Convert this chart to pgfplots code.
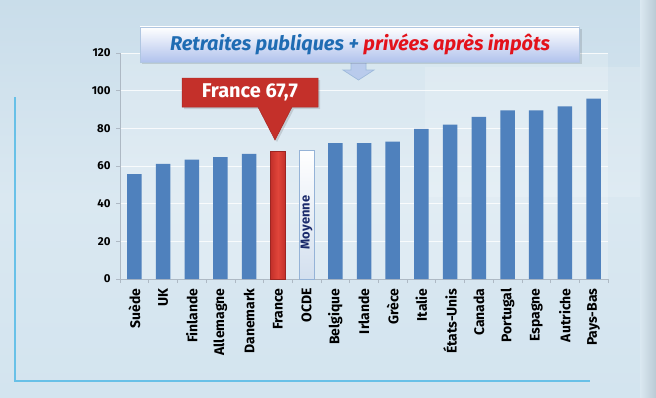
\documentclass[border=0pt]{standalone}
\usepackage{fontspec}
\setmainfont{Fira Sans}
\usepackage{pgfplots}
\pgfplotsset{compat=1.18}
\definecolor{barblue}{HTML}{4F81BD}
\definecolor{fred}{HTML}{C4302A}
\definecolor{fredlight}{HTML}{E0453A}
\definecolor{bgtop}{HTML}{C9DDEA}
\definecolor{bgmid}{HTML}{DAE8F1}
\definecolor{bgbot}{HTML}{D3E4EF}
\definecolor{tblue}{HTML}{1F6CB3}
\definecolor{tred}{HTML}{E3121B}
\definecolor{navy}{HTML}{1B2A6B}
\definecolor{frame}{HTML}{4DB8E6}
\definecolor{axgray}{HTML}{AEB9C4}
\begin{document}
\begin{tikzpicture}[x=1bp,y=1bp]
\useasboundingbox (0,0) rectangle (656,397);
\shade[top color=bgtop, bottom color=bgbot, middle color=bgmid] (0,0) rectangle (656,397);
\fill[white, opacity=0.15] (425,200) rectangle (640,330);
\fill[white, opacity=0.2] (120,118) rectangle (608,344);
\shade[left color=bgmid, right color=gray!20!bgtop] (640,0) rectangle (656,397);
\draw[frame, line width=2.5bp, opacity=0.8] (15,300) -- (15,16) -- (590,16);
\begin{axis}[
  at={(120bp,118bp)}, anchor=south west,
  scale only axis, width=488bp, height=226bp,
  xmin=-0.5, xmax=16.5, ymin=0, ymax=120,
  ytick={0,20,...,120},
  xtick={0,...,16},
  xticklabels={Suède,UK,Finlande,Allemagne,Danemark,France,OCDE,Belgique,Irlande,Grèce,Italie,États-Unis,Canada,Portugal,Espagne,Autriche,Pays-Bas},
  minor xtick={-0.5,0.5,...,16.5},
  major x tick style={draw=none},
  minor tick length=4bp,
  major tick length=4bp,
  tick align=outside,
  tick style={axgray, line width=0.6pt},
  axis x line*=bottom, axis y line*=left,
  axis line style={axgray, line width=0.7pt, -},
  ymajorgrids, grid style={white, opacity=0.8, line width=0.8pt},
  xticklabel style={rotate=90, anchor=east, font=\bfseries\fontsize{14}{16}\selectfont, xshift=-2bp},
  yticklabel style={font=\bfseries\fontsize{11.5}{13}\selectfont, xshift=-2bp},
  /pgf/number format/assume math mode=true,
  ybar, bar width=14.5bp, bar shift=0pt,
  clip=false,
]
\addplot[draw=none, fill=barblue] coordinates {
(0,55.7) (1,61.1) (2,63.4) (3,64.7) (4,66.5)
(7,72.1) (8,72.1) (9,73.0) (10,79.7) (11,82.0) (12,86.1) (13,89.6) (14,89.6) (15,91.7) (16,95.8)};
\addplot[draw=fred!80!black, left color=fred, right color=fred, middle color=fredlight] coordinates {(5,67.7)};
\addplot[draw=barblue!60, line width=0.6pt, top color=white, bottom color=barblue!25] coordinates {(6,68.4)};
\node[rotate=90, font=\bfseries\fontsize{13}{15}\selectfont, text=navy] at (axis cs:6,30) {Moyenne};
\end{axis}
% title arrow
\draw[draw=barblue!55, fill=blue!8!bgtop, line width=0.7pt] (351,335) -- (351,327) -- (343,327) -- (358.5,317) -- (374,327) -- (366,327) -- (366,335);
% title box
\fill[black, opacity=0.12] (142,333) rectangle (582,368);
\shade[top color=white, bottom color=blue!12!bgtop] (140,335) rectangle (579,370);
\draw[barblue!45, line width=0.7pt] (140,335) rectangle (579,370);
\node[font=\bfseries\itshape\fontsize{20}{23}\selectfont] at (360,352.5) {\textcolor{tblue}{Retraites publiques +} \textcolor{tred}{privées après impôts}};
% France callout
\fill[black, opacity=0.12] (184,317) -- (320,317) -- (320,288) -- (294,288) -- (277,255) -- (260,288) -- (184,288) -- cycle;
\fill[fred, draw=fred!85!black, line width=0.5pt] (182,319) -- (318,319) -- (318,290) -- (292,290) -- (275,257) -- (258,290) -- (182,290) -- cycle;
\node[font=\bfseries\fontsize{20}{23}\selectfont, text=white] at (250,304.5) {France 67,7};
\end{tikzpicture}
\end{document}
